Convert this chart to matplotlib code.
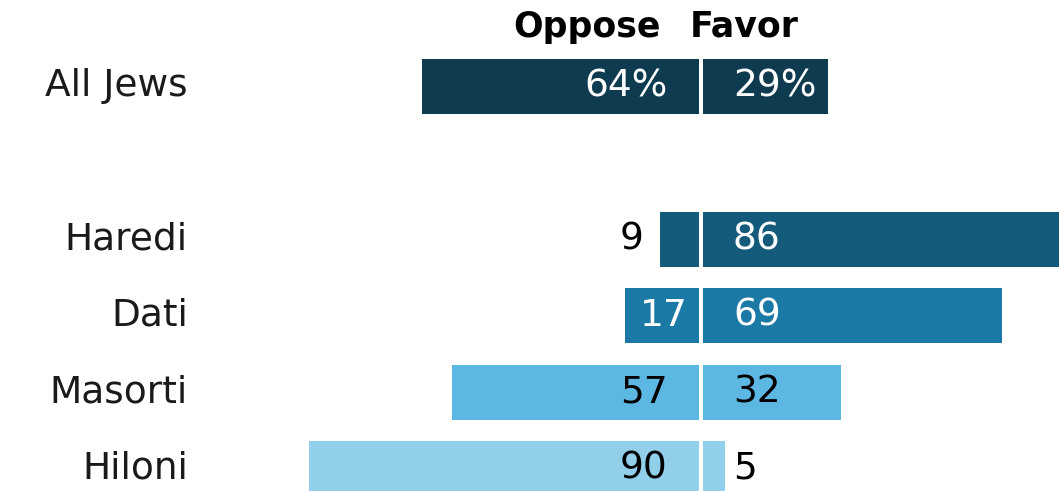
import matplotlib.pyplot as plt

# Data
groups = ['All Jews', 'Haredi', 'Dati', 'Masorti', 'Hiloni']
oppose = [64, 9, 17, 57, 90]
favor = [29, 86, 69, 32, 5]
oppose_labels = ['64%', '9', '17', '57', '90']
favor_labels = ['29%', '86', '69', '32', '5']
rows = [0, 2, 3, 4, 5]

colors = ['#0F3B50', '#145A7A', '#1B79A6', '#5DB7E3', '#91CFEB']
text_colors = ['white', 'white', 'white', 'black', 'black']

GAP = 0.46       # half of the white gap between the two bars, in data units
BAR_H = 0.72

fig = plt.figure(figsize=(10.59, 4.91), dpi=100)
ax = fig.add_axes([0, 0, 1, 1])
ax.set_xlim(-161.9, 82.7)
ax.set_ylim(5.29, -1.13)
ax.axis('off')

for i, y in enumerate(rows):
    ax.barh(y, -oppose[i], left=-GAP, height=BAR_H, color=colors[i], linewidth=0)
    ax.barh(y, favor[i], left=GAP, height=BAR_H, color=colors[i], linewidth=0)

    ax.text(-118.5, y, groups[i], ha='right', va='center', fontsize=27, color='#1a1a1a')

    # oppose value: inside the bar unless the bar is too short
    if oppose[i] < 12:
        ox, oc = -oppose[i] - GAP - 3.9, 'black'
    elif oppose[i] < 25:
        ox, oc = -3.0, text_colors[i]
    else:
        ox, oc = -7.7, text_colors[i]
    ax.text(ox, y, oppose_labels[i], ha='right', va='center', fontsize=27, color=oc)

    fc = text_colors[i] if favor[i] > 10 else 'black'
    ax.text(7.4, y, favor_labels[i], ha='left', va='center', fontsize=27, color=fc)

ax.text(-9.3, -0.78, 'Oppose', ha='right', va='center', fontsize=25, fontweight='bold', color='black')
ax.text(-2.5, -0.78, 'Favor', ha='left', va='center', fontsize=25, fontweight='bold', color='black')

fig.savefig('out.png', dpi=100)
